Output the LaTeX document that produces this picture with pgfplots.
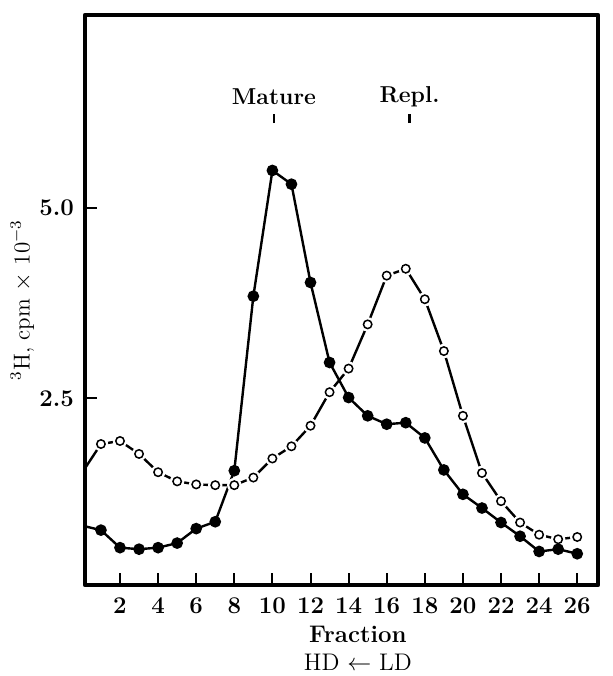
\documentclass[border=0pt]{standalone}
\usepackage{pgfplots}
\pgfplotsset{compat=1.18}

% fractions 1..26, 3H cpm x 10^-3
\pgfplotstableread{
f    y
0    0.83
1    0.77
2    0.54
3    0.52
4    0.54
5    0.60
6    0.79
7    0.88
8    1.55
9    3.84
10   5.49
11   5.31
12   4.02
13   2.97
14   2.51
15   2.27
16   2.16
17   2.18
18   1.98
19   1.56
20   1.24
21   1.06
22   0.87
23   0.69
24   0.49
25   0.52
26   0.46
}\mature

\pgfplotstableread{
f    y
0    1.52
1    1.90
2    1.94
3    1.77
4    1.53
5    1.41
6    1.37
7    1.36
8    1.36
9    1.46
10   1.71
11   1.87
12   2.14
13   2.58
14   2.89
15   3.47
16   4.11
17   4.20
18   3.80
19   3.12
20   2.27
21   1.52
22   1.15
23   0.87
24   0.71
25   0.65
26   0.68
}\repl

\begin{document}
\begin{tikzpicture}
\begin{axis}[
  scale only axis, width=256.5pt, height=285pt,
  xmin=0.163, xmax=27.09, ymin=0.05, ymax=7.53,
  xtick={2,4,...,26}, ytick={2.5,5.0}, yticklabels={2.5,5.0},
  xtick pos=bottom, ytick pos=left, tick align=inside,
  major tick length=6pt,
  every tick/.style={black, line width=1pt},
  axis line style={line width=2.4pt, line join=round},
  /pgf/number format/assume math mode=true,
  xticklabel style={font=\fontsize{12}{14}\selectfont\bfseries, yshift=-3pt},
  yticklabel style={font=\fontsize{12}{14}\selectfont\bfseries, xshift=-2pt},
  xlabel={\bfseries Fraction\\\mdseries HD $\leftarrow$ LD},
  xlabel style={at={(axis description cs:0.532,0)}, anchor=north, yshift=-17pt,
                align=center, font=\fontsize{12}{14}\selectfont},
  ylabel={$^3$H, cpm $\times$ 10$^{-3}$},
  ylabel style={at={(axis description cs:-0.122,0.5)}, anchor=center, rotate=0,
                font=\fontsize{11.5}{14}\selectfont},
]
% open circles: replicating
\addplot[black, line width=1.2pt, no markers] table[x=f, y=y] {\repl};
\addplot[only marks, mark=*, mark size=3.4pt, draw=white, fill=white]
  table[x=f, y=y, skip coords between index={0}{1}] {\repl};
\addplot[only marks, mark=*, mark size=2.1pt, draw=black, fill=white,
         mark options={line width=0.75pt}]
  table[x=f, y=y, skip coords between index={0}{1}] {\repl};
% filled circles: mature
\addplot[black, line width=1.2pt, mark=*, mark size=2.3pt]
  table[x=f, y=y] {\mature};

\node[font=\fontsize{11.5}{14}\selectfont\bfseries] at (axis cs:10.08,6.46) {Mature};
\node[font=\fontsize{11.5}{14}\selectfont\bfseries] at (axis cs:17.2,6.46) {Repl.};
\draw[line width=1.4pt] (axis cs:10.08,6.11) -- (axis cs:10.08,6.23);
\draw[line width=1.4pt] (axis cs:17.19,6.11) -- (axis cs:17.19,6.23);
\end{axis}
\pgfresetboundingbox
\path (-42.5pt,-45.5pt) rectangle (264pt,292.5pt);
\end{tikzpicture}
\end{document}
